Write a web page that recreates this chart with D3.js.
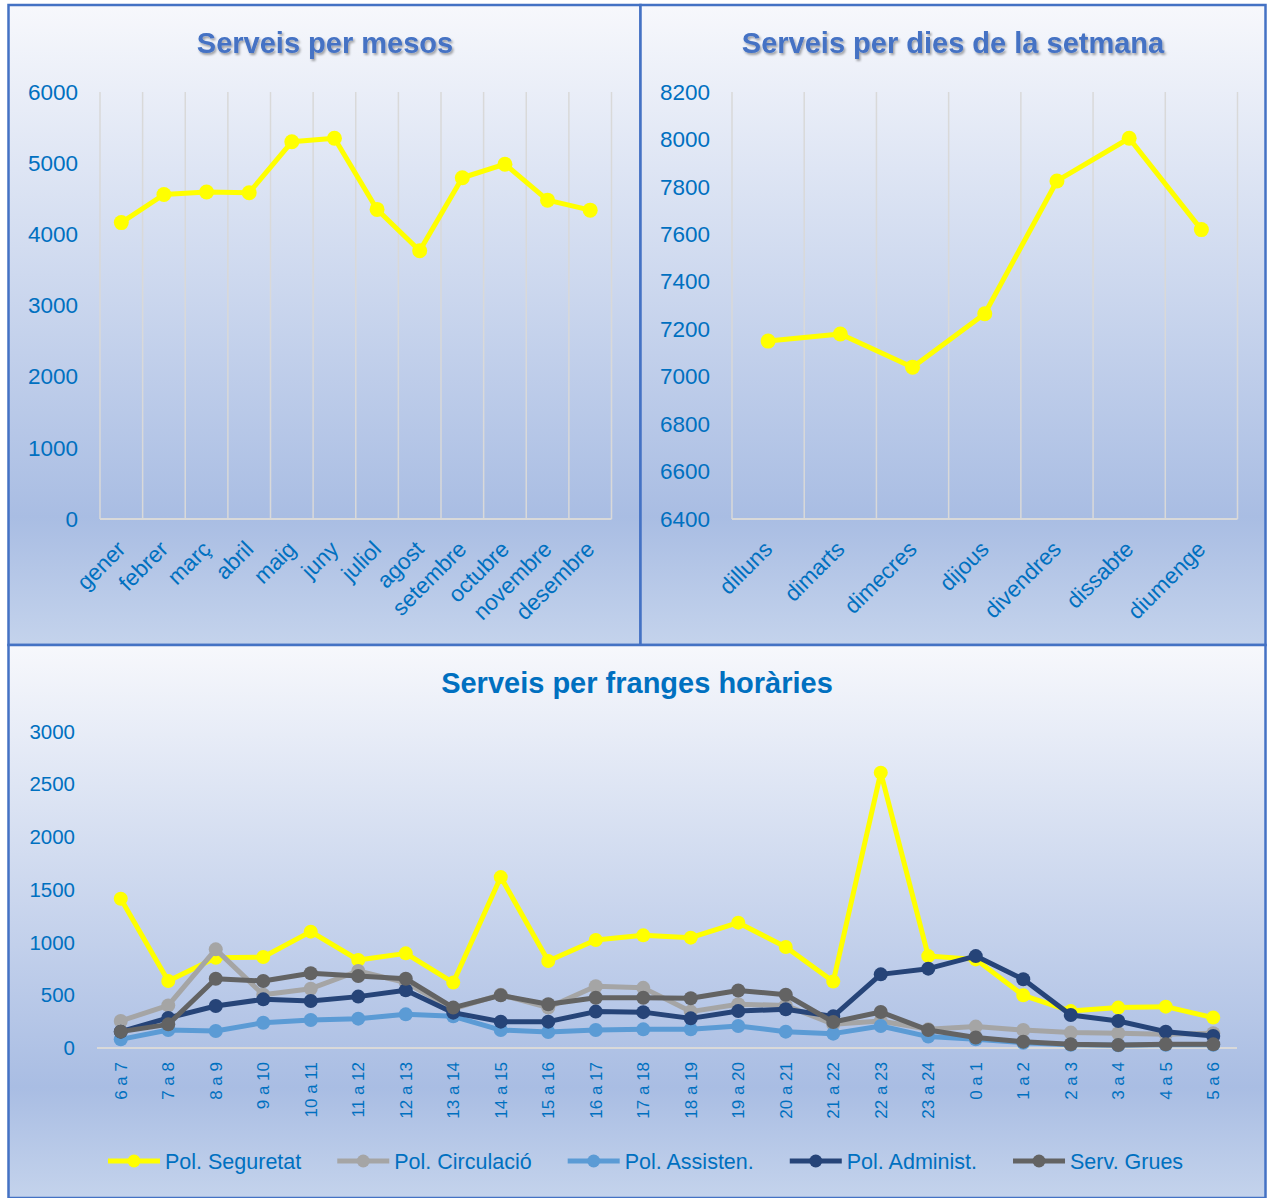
<!DOCTYPE html>
<meta charset="utf-8">
<script src="https://d3js.org/d3.v7.min.js"></script>
<style>
    html, body { margin: 0; padding: 0; background: white; }
    text { font-family: "Liberation Sans", Arial, sans-serif; }
</style>
<body></body>
<script>

    // DATA
    const months = ["gener", "febrer", "març", "abril", "maig", "juny", "juliol",
                    "agost", "setembre", "octubre", "novembre", "desembre"];
    const monthValues = [4165, 4560, 4595, 4585, 5300, 5350, 4350, 3770, 4795, 4985, 4480, 4340];
    const monthTicks = [0, 1000, 2000, 3000, 4000, 5000, 6000];

    const days = ["dilluns", "dimarts", "dimecres", "dijous", "divendres", "dissabte", "diumenge"];
    const dayValues = [7150, 7180, 7040, 7265, 7825, 8005, 7620];
    const dayTicks = [6400, 6600, 6800, 7000, 7200, 7400, 7600, 7800, 8000, 8200];

    const hours = ["6 a 7", "7 a 8", "8 a 9", "9 a 10", "10 a 11", "11 a 12", "12 a 13", "13 a 14",
                   "14 a 15", "15 a 16", "16 a 17", "17 a 18", "18 a 19", "19 a 20", "20 a 21",
                   "21 a 22", "22 a 23", "23 a 24", "0 a 1", "1 a 2", "2 a 3", "3 a 4", "4 a 5", "5 a 6"];
    const hourTicks = [0, 500, 1000, 1500, 2000, 2500, 3000];
    const seriesNames = ["Pol. Seguretat", "Pol. Circulació", "Pol. Assisten.", "Pol. Administ.", "Serv. Grues"];
    const seguretat  = [1415, 635, 856, 862, 1103, 834, 897, 620, 1620, 824, 1023, 1068, 1046, 1188, 957, 630, 2610, 871, 840, 499, 350, 383, 392, 288];
    const circulacio = [256, 404, 935, 505, 562, 730, 620, 370, 505, 383, 585, 570, 345, 414, 404, 225, 256, 177, 203, 170, 146, 140, 130, 140];
    const assisten   = [82, 170, 161, 240, 265, 278, 319, 300, 170, 152, 170, 177, 177, 208, 155, 136, 208, 108, 82, 50, 30, 25, 30, 30];
    const administ   = [155, 285, 398, 461, 445, 487, 547, 335, 250, 250, 345, 340, 281, 350, 367, 300, 698, 752, 871, 651, 313, 256, 155, 114];
    const grues      = [155, 224, 657, 635, 708, 682, 657, 383, 499, 414, 477, 477, 471, 545, 505, 246, 341, 170, 100, 60, 35, 28, 35, 35];

    // STYLE
    const width = 1268, height = 1198;
    const seriesColors = ["#FFFF00", "#A5A5A5", "#5B9BD5", "#264478", "#636363"];
    const labelColor = "#0070C0";
    const gridColor = "#D9D9D9";
    const borderColor = "#4472C4";
    const fmt = d3.format("d");

    const svg = d3.select("body").append("svg")
        .attr("width", width)
        .attr("height", height);

    const defs = svg.append("defs");
    const grad = defs.append("linearGradient")
        .attr("id", "bg").attr("x1", 0).attr("y1", 0).attr("x2", 0).attr("y2", 1);
    grad.append("stop").attr("offset", "0%").attr("stop-color", "#F7F8FC");
    grad.append("stop").attr("offset", "80%").attr("stop-color", "#A9BDE3");
    grad.append("stop").attr("offset", "100%").attr("stop-color", "#C4D3EC");

    const shadow = defs.append("filter").attr("id", "shadow")
        .attr("x", "-10%").attr("y", "-30%").attr("width", "120%").attr("height", "160%");
    shadow.append("feDropShadow")
        .attr("dx", 1.5).attr("dy", 2).attr("stdDeviation", 1.2)
        .attr("flood-color", "#000").attr("flood-opacity", 0.35);

    // Panels
    const panels = [
        {x: 8.5, y: 5, w: 632, h: 640},
        {x: 640.5, y: 5, w: 625, h: 640},
        {x: 8.5, y: 645, w: 1257, h: 553}
    ];
    svg.selectAll("rect.panel").data(panels).enter().append("rect")
        .attr("class", "panel")
        .attr("x", d => d.x).attr("y", d => d.y)
        .attr("width", d => d.w).attr("height", d => d.h)
        .attr("fill", "url(#bg)")
        .attr("stroke", borderColor)
        .attr("stroke-width", 2.5);

    function title(text, x, y, color, withShadow) {
        const t = svg.append("text")
            .attr("x", x).attr("y", y)
            .attr("text-anchor", "middle")
            .attr("font-size", 29)
            .attr("font-weight", "bold")
            .attr("fill", color)
            .text(text);
        if (withShadow) t.attr("filter", "url(#shadow)");
    }

    // Draws a single-series chart with vertical gridlines and 45 degree labels
    function smallChart(cats, vals, ticks, x0, x1, y0, y1) {
        const x = d3.scaleBand().domain(cats).range([x0, x1]);
        const y = d3.scaleLinear().domain([ticks[0], ticks[ticks.length - 1]]).range([y1, y0]);
        const g = svg.append("g");

        // gridlines on category boundaries
        const bounds = cats.map(c => x(c)).concat([x1]);
        g.selectAll("line.grid").data(bounds).enter().append("line")
            .attr("x1", d => d).attr("x2", d => d)
            .attr("y1", y0).attr("y2", y1)
            .attr("stroke", gridColor).attr("stroke-width", 1.5);
        g.append("line")
            .attr("x1", x0).attr("x2", x1).attr("y1", y1).attr("y2", y1)
            .attr("stroke", gridColor).attr("stroke-width", 2);

        const yAxis = g.append("g")
            .attr("transform", `translate(${x0},0)`)
            .call(d3.axisLeft(y).tickValues(ticks).tickFormat(fmt).tickSize(0).tickPadding(22));
        yAxis.select(".domain").remove();
        yAxis.selectAll("text")
            .attr("font-size", 22.5).attr("fill", labelColor)
            .style("font-family", "'Liberation Sans', Arial, sans-serif");

        const xAxis = g.append("g")
            .attr("transform", `translate(0,${y1})`)
            .call(d3.axisBottom(x).tickSize(0));
        xAxis.select(".domain").remove();
        xAxis.selectAll("text")
            .attr("font-size", 22.5).attr("fill", labelColor)
            .style("font-family", "'Liberation Sans', Arial, sans-serif")
            .attr("text-anchor", "end")
            .attr("y", 0).attr("dy", "0.35em")
            .attr("transform", "translate(0,26) rotate(-45)");

        const cx = c => x(c) + x.bandwidth() / 2;
        const line = d3.line().x((d, i) => cx(cats[i])).y(d => y(d));
        g.append("path").datum(vals)
            .attr("d", line)
            .attr("fill", "none")
            .attr("stroke", seriesColors[0])
            .attr("stroke-width", 5)
            .attr("stroke-linejoin", "round");
        g.selectAll("circle").data(vals).enter().append("circle")
            .attr("cx", (d, i) => cx(cats[i]))
            .attr("cy", d => y(d))
            .attr("r", 7.5)
            .attr("fill", seriesColors[0]);
    }

    title("Serveis per mesos", 325, 53, borderColor, true);
    smallChart(months, monthValues, monthTicks, 100, 611.5, 92, 519);

    title("Serveis per dies de la setmana", 953, 53, borderColor, true);
    smallChart(days, dayValues, dayTicks, 732, 1237.5, 92, 519);

    // Bottom chart: hourly bands
    title("Serveis per franges horàries", 637, 693, labelColor, false);

    const hx0 = 97, hx1 = 1237, hy0 = 731.5, hy1 = 1048;
    const hx = d3.scaleBand().domain(hours).range([hx0, hx1]);
    const hy = d3.scaleLinear().domain([0, 3000]).range([hy1, hy0]);
    const hcx = c => hx(c) + hx.bandwidth() / 2;
    const hg = svg.append("g");

    hg.append("line")
        .attr("x1", hx0).attr("x2", hx1).attr("y1", hy1).attr("y2", hy1)
        .attr("stroke", gridColor).attr("stroke-width", 2);

    const hyAxis = hg.append("g")
        .attr("transform", `translate(${hx0},0)`)
        .call(d3.axisLeft(hy).tickValues(hourTicks).tickFormat(fmt).tickSize(0).tickPadding(22));
    hyAxis.select(".domain").remove();
    hyAxis.selectAll("text")
        .attr("font-size", 20.5).attr("fill", labelColor)
        .style("font-family", "'Liberation Sans', Arial, sans-serif");

    const hxAxis = hg.append("g")
        .attr("transform", `translate(0,${hy1})`)
        .call(d3.axisBottom(hx).tickSize(0));
    hxAxis.select(".domain").remove();
    hxAxis.selectAll("text")
        .attr("font-size", 17).attr("fill", labelColor)
        .style("font-family", "'Liberation Sans', Arial, sans-serif")
        .attr("text-anchor", "end")
        .attr("y", 0).attr("dy", "0.35em")
        .attr("transform", "translate(0,14) rotate(-90)");

    const allSeries = [seguretat, circulacio, assisten, administ, grues];
    const hline = d3.line().x((d, i) => hcx(hours[i])).y(d => hy(d));
    allSeries.forEach((vals, s) => {
        const sg = hg.append("g");
        sg.append("path").datum(vals)
            .attr("d", hline)
            .attr("fill", "none")
            .attr("stroke", seriesColors[s])
            .attr("stroke-width", 5)
            .attr("stroke-linejoin", "round");
        sg.selectAll("circle").data(vals).enter().append("circle")
            .attr("cx", (d, i) => hcx(hours[i]))
            .attr("cy", d => hy(d))
            .attr("r", 7)
            .attr("fill", seriesColors[s]);
    });

    // Legend
    const legend = svg.append("g").attr("transform", "translate(108,1161)");
    let lx = 0;
    seriesNames.forEach((name, s) => {
        const item = legend.append("g").attr("transform", `translate(${lx},0)`);
        item.append("line")
            .attr("x1", 0).attr("x2", 52).attr("y1", 0).attr("y2", 0)
            .attr("stroke", seriesColors[s]).attr("stroke-width", 5);
        item.append("circle")
            .attr("cx", 26).attr("cy", 0).attr("r", 6.5)
            .attr("fill", seriesColors[s]);
        const t = item.append("text")
            .attr("x", 57).attr("y", 0).attr("dy", "0.35em")
            .attr("font-size", 21.5)
            .attr("fill", labelColor)
            .text(name);
        lx += 57 + t.node().getComputedTextLength() + 36;
    });

</script>
